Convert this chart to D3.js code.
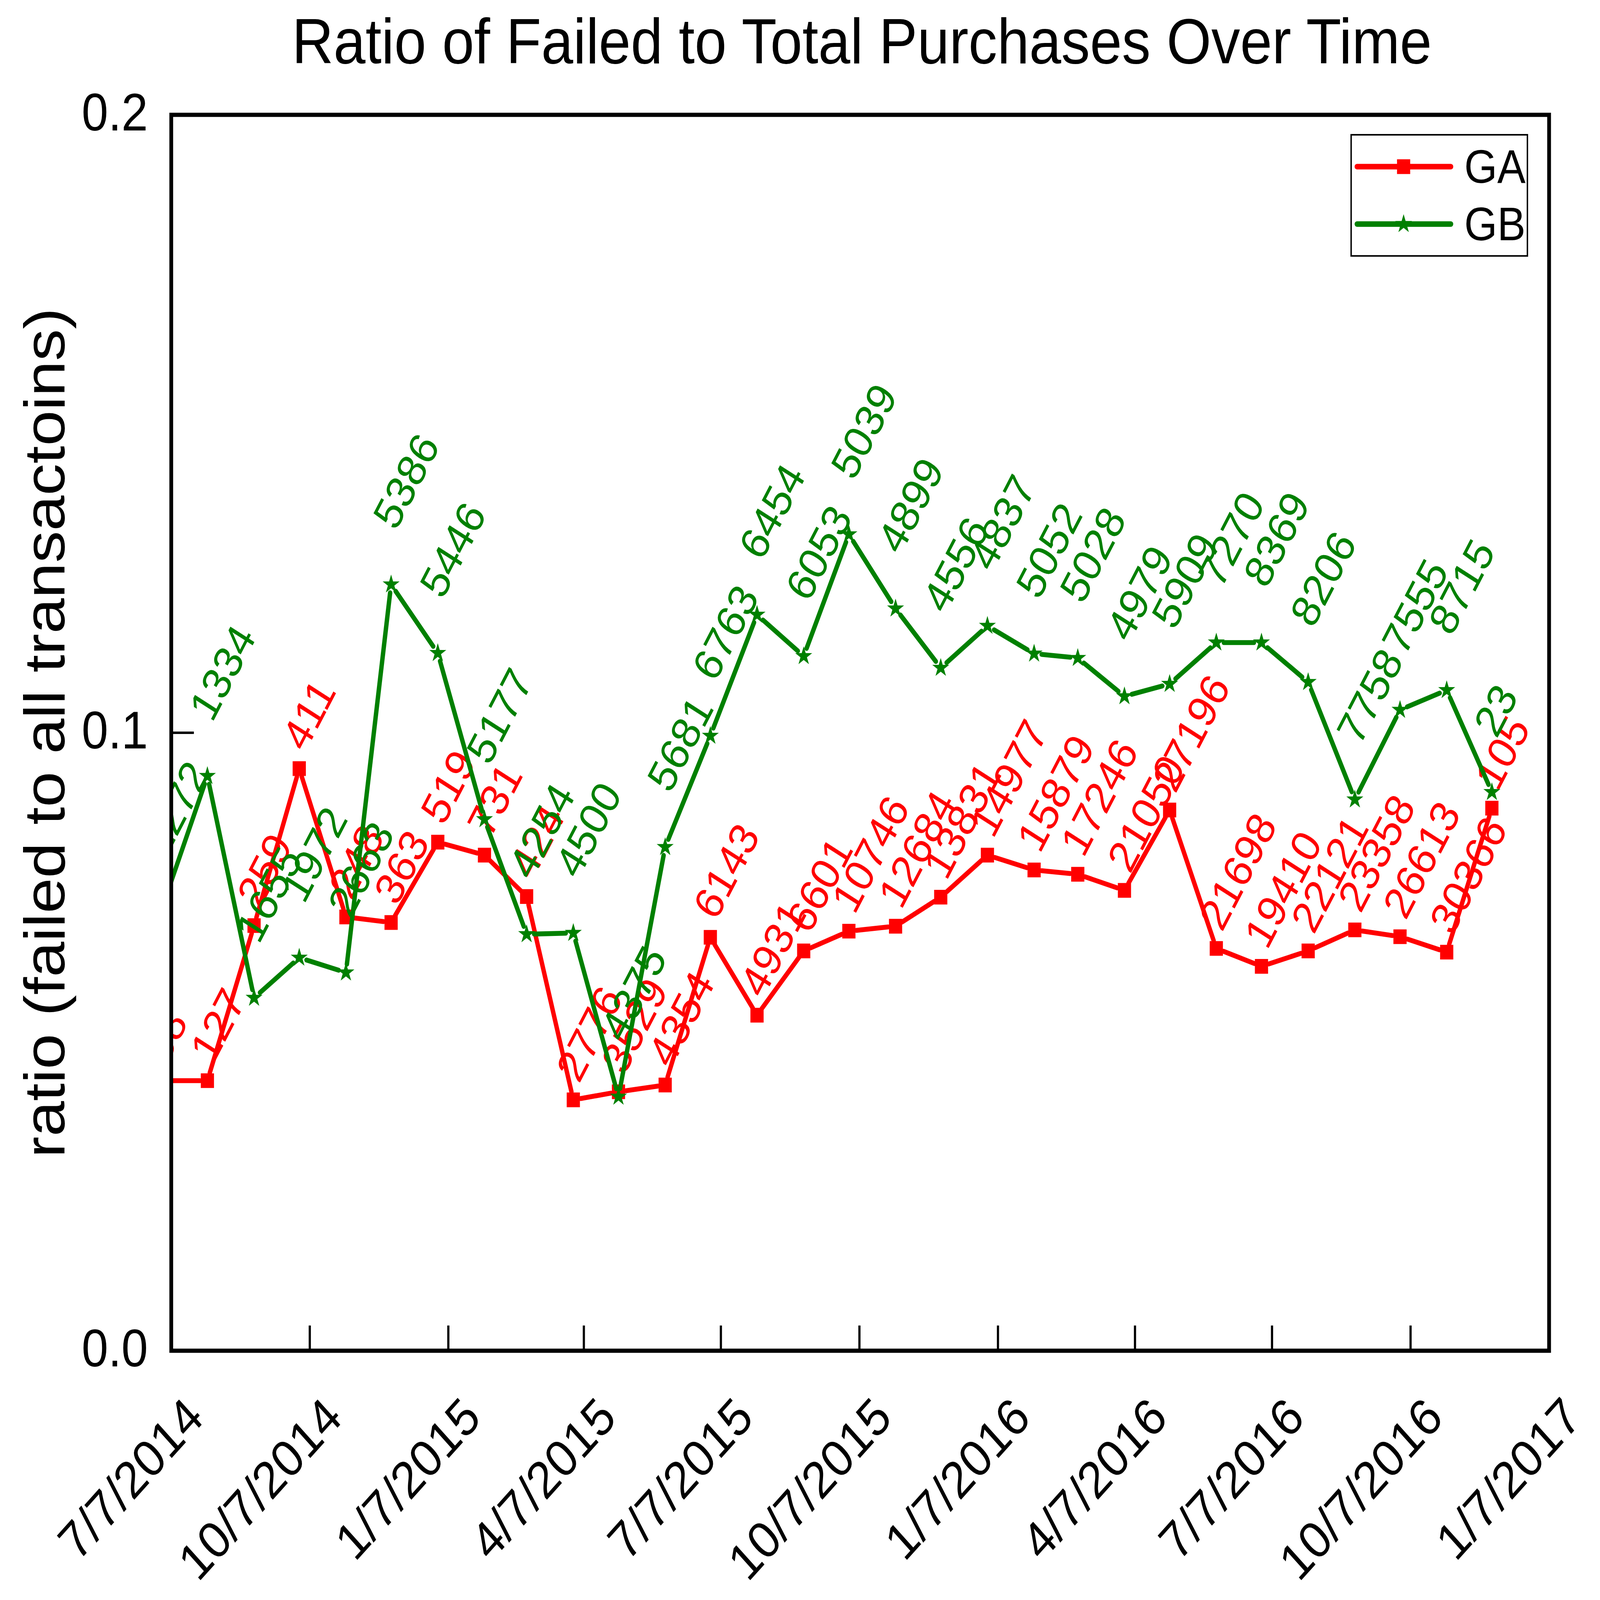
<!DOCTYPE html>
<html>
<head>
<meta charset="utf-8">
<script src="https://cdn.jsdelivr.net/npm/d3@7"></script>
<style>
  html, body { margin: 0; padding: 0; background: #fff; overflow: hidden; }
  svg { display: block; width: 100vw; height: 100vh; font-family: 'Liberation Sans', Arial, sans-serif; }
</style>
</head>
<body>
<div class="chart"></div>
<script>
// month-end dates of the two series
const months = ['2014-06-30', '2014-07-31', '2014-08-31', '2014-09-30', '2014-10-31', '2014-11-30',
  '2014-12-31', '2015-01-31', '2015-02-28', '2015-03-31', '2015-04-30', '2015-05-31',
  '2015-06-30', '2015-07-31', '2015-08-31', '2015-09-30', '2015-10-31', '2015-11-30',
  '2015-12-31', '2016-01-31', '2016-02-29', '2016-03-31', '2016-04-30', '2016-05-31',
  '2016-06-30', '2016-07-31', '2016-08-31', '2016-09-30', '2016-10-31', '2016-11-30']

const gaRatio = [0.0437, 0.0437, 0.0688, 0.0942, 0.0702, 0.0693, 0.0823, 0.0802, 0.0735, 0.0406,
  0.0419, 0.0430, 0.0669, 0.0543, 0.0647, 0.0679, 0.0687, 0.0734, 0.0802, 0.0778,
  0.0771, 0.0745, 0.0875, 0.0651, 0.0622, 0.0647, 0.0681, 0.0670, 0.0645, 0.0878]

const gbRatio = [0.0710, 0.0930, 0.0571, 0.0636, 0.0612, 0.1240, 0.1129, 0.0860, 0.0674, 0.0676,
  0.0411, 0.0815, 0.0995, 0.1191, 0.1124, 0.1321, 0.1201, 0.1105, 0.1173, 0.1128,
  0.1121, 0.1059, 0.1079, 0.1146, 0.1146, 0.1082, 0.0892, 0.1037, 0.1069, 0.0904]

// point labels (total transactions)
const gaCounts = ['58', '127', '259', '411', '248', '363', '519', '731', '424', '2776',
  '3529', '4354', '6143', '4931', '6601', '10746', '12684', '13831', '14977', '15879',
  '17246', '21050', '27196', '21698', '19410', '22121', '23358', '26613', '30366', '105']

const gbCounts = ['1272', '1334', '1655', '1972', '2663', '5386', '5446', '5177', '4254', '4500',
  '4375', '5681', '6763', '6454', '6053', '5039', '4899', '4556', '4837', '5052',
  '5028', '4979', '5909', '7270', '8369', '8206', '7758', '7555', '8715', '23']

const tickDates = ['2014-07-07', '2014-10-07', '2015-01-07', '2015-04-07', '2015-07-07', '2015-10-07',
  '2016-01-07', '2016-04-07', '2016-07-07', '2016-10-07', '2017-01-07']
const yTicks = [0, 0.1, 0.2]
const seriesNames = ['GA', 'GB']
const seriesColors = ['#ff0000', '#008000']

document.addEventListener('DOMContentLoaded', start)

function start () {
  const W = 5092
  const H = 4570
  const plot = { left: 545, right: 4930, top: 328, bottom: 3858 }
  const parse = d3.utcParse('%Y-%m-%d')

  // viewBox stretched to the window so the frame matches whatever its size
  const svg = d3.select('.chart').append('svg')
    .attr('viewBox', `0 0 ${W} ${H}`)
    .attr('preserveAspectRatio', 'none')

  svg.append('rect').attr('width', W).attr('height', H).attr('fill', '#fff')

  const x = d3.scaleUtc()
    .domain([parse(tickDates[0]), parse(tickDates[tickDates.length - 1])])
    .range([plot.left, plot.right])
  const y = d3.scaleLinear()
    .domain([0, 0.2])
    .range([plot.bottom, plot.top])

  svg.append('clipPath').attr('id', 'plotClip')
    .append('rect')
    .attr('x', plot.left).attr('y', plot.top)
    .attr('width', plot.right - plot.left).attr('height', plot.bottom - plot.top)

  const series = [
    { name: seriesNames[0], color: seriesColors[0], values: gaRatio, labels: gaCounts, symbol: 'square', lab: [18, -44] },
    { name: seriesNames[1], color: seriesColors[1], values: gbRatio, labels: gbCounts, symbol: 'star', lab: [15, -150] }
  ]

  const g = svg.append('g').attr('clip-path', 'url(#plotClip)')

  series.forEach(s => {
    const pts = months.map((m, i) => [x(parse(m)), y(s.values[i])])
    drawSegments(g, pts, s.color)
    drawMarkers(g, pts, s)
    drawLabels(g, pts, s)
  })

  drawAxes(svg, x, y, plot, parse)
  drawLegend(svg, series)

  svg.append('text')
    .attr('x', 2743).attr('y', 181)
    .attr('text-anchor', 'middle')
    .attr('font-size', 183)
    .text('Ratio of Failed to Total Purchases Over Time')

  svg.append('text')
    .attr('transform', `translate(205, ${(plot.top + plot.bottom) / 2}) rotate(-90)`)
    .attr('text-anchor', 'middle')
    .attr('font-size', 182)
    .text('ratio (failed to all transactoins)')
}

// lines stop short of the symbols
function drawSegments (g, pts, color) {
  const gap = 24
  const segs = d3.pairs(pts).map(([a, b]) => {
    const dx = b[0] - a[0]
    const dy = b[1] - a[1]
    const len = Math.sqrt(dx * dx + dy * dy)
    const ux = dx / len
    const uy = dy / len
    return [a[0] + ux * gap, a[1] + uy * gap, b[0] - ux * gap, b[1] - uy * gap]
  })
  g.append('g').selectAll('line')
    .data(segs)
    .enter().append('line')
    .attr('x1', d => d[0]).attr('y1', d => d[1])
    .attr('x2', d => d[2]).attr('y2', d => d[3])
    .attr('stroke', color)
    .attr('stroke-width', 14)
    .attr('stroke-linecap', 'round')
}

function symbolPath (type) {
  return type === 'square'
    ? d3.symbol(d3.symbolSquare, 42 * 42)()
    : d3.symbol(d3.symbolStar, 900)()
}

function drawMarkers (g, pts, s) {
  g.append('g').selectAll('path')
    .data(pts)
    .enter().append('path')
    .attr('d', symbolPath(s.symbol))
    .attr('transform', d => `translate(${d[0]},${d[1]})`)
    .attr('fill', s.color)
}

function drawLabels (g, pts, s) {
  g.append('g').selectAll('text')
    .data(pts)
    .enter().append('text')
    .attr('transform', d => `translate(${d[0] + s.lab[0]},${d[1] + s.lab[1]}) rotate(-60)`)
    .attr('font-size', 128)
    .attr('fill', s.color)
    .text((d, i) => s.labels[i])
}

function drawAxes (svg, x, y, plot, parse) {
  const ax = svg.append('g')

  // bottom ticks (inward) and rotated date labels
  const fmt = d3.utcFormat('%-m/%-d/%Y')
  const xt = ax.append('g').selectAll('g')
    .data(tickDates.map(parse))
    .enter().append('g')
  xt.append('line')
    .attr('x1', d => x(d)).attr('x2', d => x(d))
    .attr('y1', plot.bottom).attr('y2', plot.bottom - 72)
    .attr('stroke', '#000').attr('stroke-width', 7)
  xt.append('text')
    .attr('transform', d => `translate(${x(d) + 110},${plot.bottom + 198}) rotate(-45)`)
    .attr('text-anchor', 'end')
    .attr('font-size', 148)
    .text(d => fmt(d))

  // left ticks
  const yt = ax.append('g').selectAll('g')
    .data(yTicks)
    .enter().append('g')
  yt.append('line')
    .attr('x1', plot.left).attr('x2', plot.left + 72)
    .attr('y1', d => y(d)).attr('y2', d => y(d))
    .attr('stroke', '#000').attr('stroke-width', 7)
  yt.append('text')
    .attr('x', 471)
    .attr('y', d => y(d) + 45)
    .attr('text-anchor', 'end')
    .attr('font-size', 152)
    .text(d => d3.format('.1f')(d))

  // frame
  ax.append('rect')
    .attr('x', plot.left).attr('y', plot.top)
    .attr('width', plot.right - plot.left).attr('height', plot.bottom - plot.top)
    .attr('fill', 'none')
    .attr('stroke', '#000')
    .attr('stroke-width', 12)
}

function drawLegend (svg, series) {
  const lg = svg.append('g')
  lg.append('rect')
    .attr('x', 4300).attr('y', 385)
    .attr('width', 561).attr('height', 346)
    .attr('fill', '#fff')
    .attr('stroke', '#000')
    .attr('stroke-width', 4.5)

  const rows = [476, 640]
  series.forEach((s, i) => {
    const ry = rows[i]
    lg.append('line')
      .attr('x1', 4319).attr('x2', 4617)
      .attr('y1', ry).attr('y2', ry)
      .attr('stroke', s.color)
      .attr('stroke-width', 16)
      .attr('stroke-linecap', 'round')
    lg.append('path')
      .attr('d', symbolPath(s.symbol))
      .attr('transform', `translate(4467,${ry})`)
      .attr('fill', s.color)
    lg.append('text')
      .attr('x', 4660).attr('y', ry + 46)
      .attr('font-size', 135)
      .text(s.name)
  })
}
</script>
</body>
</html>
